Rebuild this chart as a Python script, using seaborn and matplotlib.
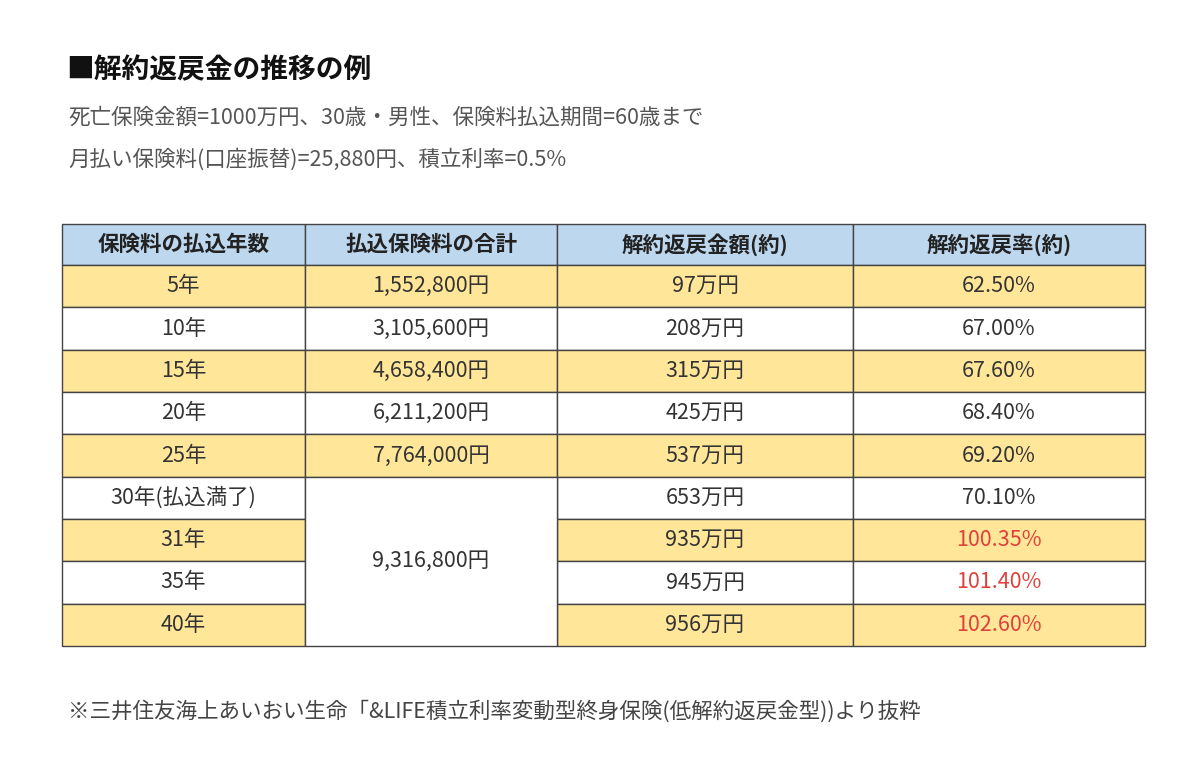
import matplotlib
matplotlib.use("Agg")
import matplotlib.pyplot as plt
import seaborn as sns
from matplotlib.patches import Rectangle

sns.set_theme(style="white")
plt.rcParams['font.family'] = ['Noto Sans CJK JP', 'DejaVu Sans']

title = "■解約返戻金の推移の例"
subtitle1 = "死亡保険金額=1000万円、30歳・男性、保険料払込期間=60歳まで"
subtitle2 = "月払い保険料(口座振替)=25,880円、積立利率=0.5%"
footnote = "※三井住友海上あいおい生命「&LIFE積立利率変動型終身保険(低解約返戻金型))より抜粋"
headers = ["保険料の払込年数", "払込保険料の合計", "解約返戻金額(約)", "解約返戻率(約)"]
years = ["5年", "10年", "15年", "20年", "25年", "30年(払込満了)", "31年", "35年", "40年"]
paid = ["1,552,800円", "3,105,600円", "4,658,400円", "6,211,200円", "7,764,000円"]
paid_merged = "9,316,800円"
refund = ["97万円", "208万円", "315万円", "425万円", "537万円", "653万円", "935万円", "945万円", "956万円"]
rate = [62.50, 67.00, 67.60, 68.40, 69.20, 70.10, 100.35, 101.40, 102.60]

fig = plt.figure(figsize=(12, 7.65), dpi=100)
ax = fig.add_axes([0, 0, 1, 1])
ax.set_xlim(0, 1200); ax.set_ylim(765, 0); ax.axis("off")
fig.patch.set_facecolor("white")

cols = [62, 305, 557, 853, 1145]
top, hh = 224, 41
rh = (646 - 265) / 9
yellow, blue, line = "#FFE699", "#BDD7EE", "#444444"
txt = "#333333"
fs = 15.5

ax.text(66, 70, title, fontsize=20, fontweight="bold", va="center", color="#111111")
ax.text(68, 118, subtitle1, fontsize=fs, va="center", color="#555555")
ax.text(68, 160, subtitle2, fontsize=fs, va="center", color="#555555")
ax.text(68, 712, footnote, fontsize=fs, va="center", color="#444444")

def cell(x0, x1, y0, y1, s, fc, color=txt, weight="normal"):
    ax.add_patch(Rectangle((x0, y0), x1 - x0, y1 - y0, facecolor=fc, edgecolor=line, lw=1))
    ax.text((x0 + x1) / 2, (y0 + y1) / 2, s, ha="center", va="center", fontsize=fs,
            color=color, fontweight=weight)

for j, h in enumerate(headers):
    cell(cols[j], cols[j + 1], top, top + hh, h, blue, "#222222", "bold")
for i, y in enumerate(years):
    y0 = top + hh + i * rh
    fc = yellow if i % 2 == 0 else "white"
    cell(cols[0], cols[1], y0, y0 + rh, y, fc)
    if i < len(paid):
        cell(cols[1], cols[2], y0, y0 + rh, paid[i], fc)
    cell(cols[2], cols[3], y0, y0 + rh, refund[i], fc)
    cell(cols[3], cols[4], y0, y0 + rh, f"{rate[i]:.2f}%", fc, "#E0403A" if rate[i] > 100 else txt)
y0 = top + hh + len(paid) * rh
cell(cols[1], cols[2], y0, top + hh + 9 * rh, paid_merged, "white")

fig.savefig("out.png", dpi=100, facecolor="white")
